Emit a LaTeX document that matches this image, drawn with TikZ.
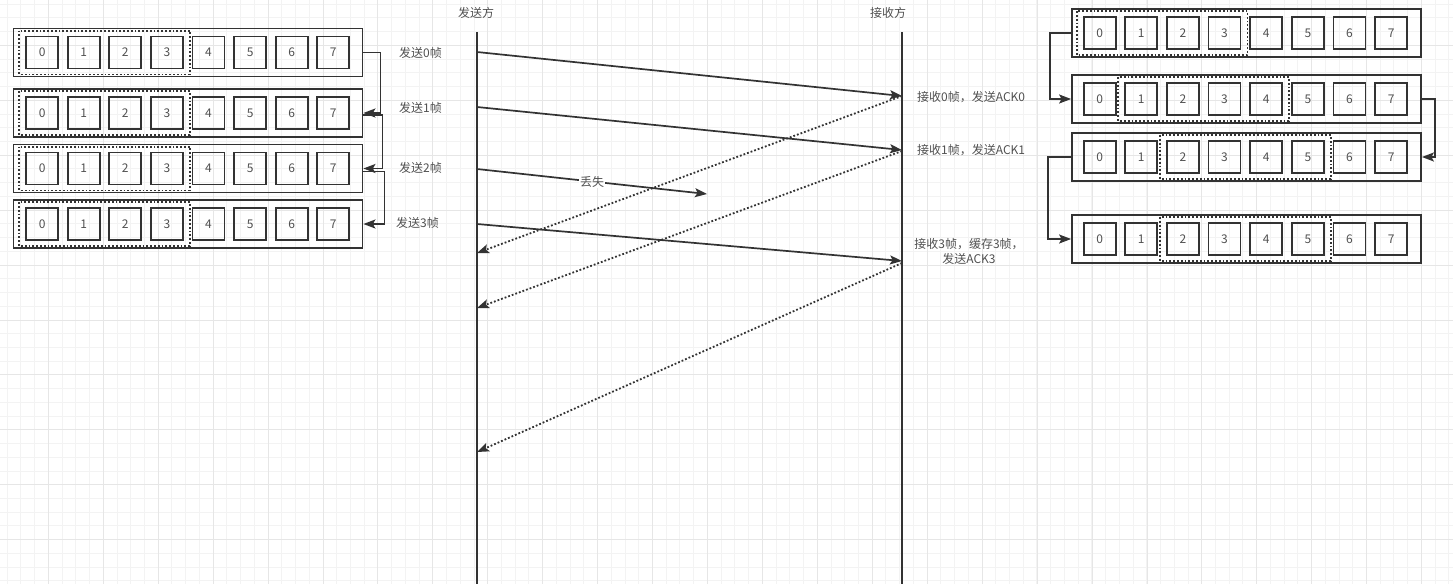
\documentclass[tikz,border=0pt]{standalone}
\usepackage{fontspec}
\usepackage{tikz}
\usetikzlibrary{arrows.meta,positioning,calc}
\newfontfamily\cjk{Noto Sans CJK SC}
\definecolor{linec}{HTML}{333333}
\definecolor{txtc}{HTML}{505050}
\definecolor{gridmin}{HTML}{F3F3F3}
\definecolor{gridmaj}{HTML}{E6E6E6}
\tikzset{
  win/.style     = {draw=linec, line width=1.8pt, rectangle, minimum width=349pt,
                    minimum height=48pt, inner sep=0pt},
  cell/.style    = {draw=linec, line width=1.8pt, rectangle, minimum size=32pt,
                    inner sep=0pt, text=txtc, font=\cjk\fontsize{12}{14}\selectfont},
  sel/.style     = {draw=linec, line width=1.8pt, dotted},
  lbl/.style     = {text=txtc, inner sep=1pt, font=\cjk\fontsize{12}{15}\selectfont},
  life/.style    = {draw=linec, line width=1.8pt},
  link/.style    = {draw=linec, line width=1.7pt, -{Stealth[length=12pt,width=9pt,inset=2.5pt]}},
  frame/.style   = {draw=linec, line width=1.7pt, -{Stealth[length=12pt,width=9pt,inset=2.5pt]}},
  ack/.style     = {draw=linec, line width=1.8pt, dotted, -{Stealth[length=12pt,width=9pt,inset=2.5pt]}},
}

\begin{document}
\begin{tikzpicture}[x=1pt,y=-1pt]
\useasboundingbox (0,0) rectangle (1453,584);
% background grid
\begin{scope}
\clip (0,0) rectangle (1453,584);
\foreach \i in {0,...,106} \draw[gridmin, line width=0.8pt] (7.11+13.73*\i,0) -- (7.11+13.73*\i,584);
\foreach \i in {0,...,43} \draw[gridmin, line width=0.8pt] (0,4.11+13.73*\i) -- (1453,4.11+13.73*\i);
\foreach \i in {-1,...,26} \draw[gridmaj, line width=0.8pt] (48.3+54.93*\i,0) -- (48.3+54.93*\i,584);
\foreach \i in {-1,...,10} \draw[gridmaj, line width=0.8pt] (0,45.3+54.93*\i) -- (1453,45.3+54.93*\i);
\end{scope}

% sender windows
\foreach \r/\y in {1/52.5, 2/113, 3/168.5, 4/224} {
  \node[win] (lw\r) at (188,\y) {};
  \foreach \i in {0,...,7}
    \node[cell] (lw\r-\i) at ($(lw\r.west)+(29.5+41.6*\i,0)$) {\i};
  \draw[sel] ($(lw\r-0.north west)+(-6,-5)$) rectangle ($(lw\r-3.south east)+(6,5)$);
}

% receiver windows
\foreach \r/\y/\a/\b in {1/33/0/3, 2/99/1/4, 3/157/2/5, 4/239/2/5} {
  \node[win] (rw\r) at (1246.5,\y) {};
  \foreach \i in {0,...,7}
    \node[cell] (rw\r-\i) at ($(rw\r.west)+(28.5+41.65*\i,0)$) {\i};
  \draw[sel] ($(rw\r-\a.north west)+(-6,-5)$) rectangle ($(rw\r-\b.south east)+(6,5)$);
}

% window moves
\draw[link] (lw1.east) -- ++(17,0) |- (lw2.east);
\draw[link] ([yshift=-2pt]lw2.east) -- ++(19,0) |- (lw3.east);
\draw[link] ([yshift=-3pt]lw3.east) -- ++(21,0) |- (lw4.east);
\draw[link] (rw1.west) -- ++(-21,0) |- (rw2.west);
\draw[link] (rw2.east) -- ++(13,0) |- (rw3.east);
\draw[link] (rw3.west) -- ++(-23,0) |- (rw4.west);

% lifelines
\node[lbl] (snd) at (476,13) {发送方};
\node[lbl] (rcv) at (888,13) {接收方};
\coordinate (stop) at (477,32);
\coordinate (sbot) at (477,584);
\coordinate (rtop) at (902,32);
\coordinate (rbot) at (902,584);
\draw[life] (stop) -- (sbot);
\draw[life] (rtop) -- (rbot);

% frames
\coordinate (s0) at (477,52);
\coordinate (s1) at (477,107);
\coordinate (s2) at (477,169);
\coordinate (s3) at (477,224);
\coordinate (r0) at (902,96);
\coordinate (r1) at (902,150);
\coordinate (r3) at (902,261);
\coordinate (lost) at (707,194);
\draw[frame] (s0) -- (r0);
\draw[frame] (s1) -- (r1);
\draw[frame] (s2) -- node[lbl, fill=white, pos=0.5] (lostl) {丢失} (lost);
\draw[frame] (s3) -- (r3);

% acks
\coordinate (k0) at (477,253);
\coordinate (k1) at (477,308);
\coordinate (k3) at (477,452);
\draw[ack] (r0) -- (k0);
\draw[ack] ([yshift=-1pt]r1) -- (k1);
\draw[ack] ([yshift=-2pt]r3) -- (k3);

% labels
\node[lbl, anchor=east] (l0) at (443,53) {发送0帧};
\node[lbl, anchor=east] (l1) at (443,108) {发送1帧};
\node[lbl, anchor=east] (l2) at (443,168) {发送2帧};
\node[lbl, anchor=east] (l3) at (440,223) {发送3帧};
\node[lbl, anchor=west] (m0) at (916,97) {接收0帧，发送ACK0};
\node[lbl, anchor=west] (m1) at (916,150) {接收1帧，发送ACK1};
\node[lbl, align=center] (m3) at (969,251.5) {接收3帧，缓存3帧，\\发送ACK3};
\end{tikzpicture}
\end{document}
